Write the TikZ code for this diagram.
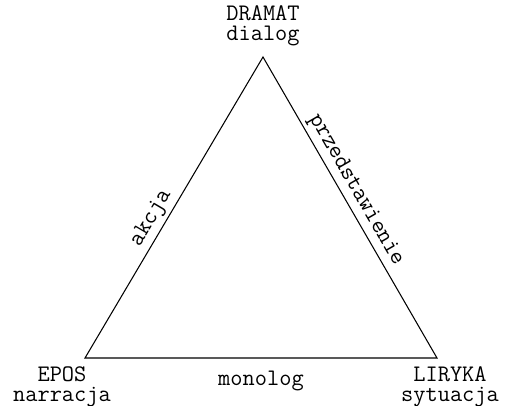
\documentclass[tikz,border=0pt]{standalone}
\usepackage{fontspec}
\usetikzlibrary{positioning}
\tikzset{
    vlabel/.style={font=\ttfamily\fontsize{13.5}{11.5}\selectfont, align=center, inner sep=1pt},
    elabel/.style={font=\ttfamily\fontsize{13.5}{11.5}\selectfont, sloped, above, inner sep=2pt},
}
\begin{document}
\begin{tikzpicture}[line width=0.6pt]
    \useasboundingbox (0,0) rectangle (10.24,8.10);
    \coordinate (dramat) at (5.26,6.96);
    \coordinate (epos) at (1.70,0.94);
    \coordinate (liryka) at (8.74,0.94);
    \node[vlabel, above=0.18cm of dramat] (dramatlbl) {DRAMAT\\dialog};
    \node[vlabel, below=0.12cm of epos, xshift=-0.46cm] (eposlbl) {EPOS\\narracja};
    \node[vlabel, below=0.12cm of liryka, xshift=0.26cm] (lirykalbl) {LIRYKA\\sytuacja};
    \draw (epos) -- node[elabel, pos=0.44] (akcja) {akcja} (dramat)
        -- node[elabel, pos=0.465] (przedst) {przedstawienie} (liryka)
        -- node[vlabel, midway, below=0.22cm] (monolog) {monolog} cycle;
\end{tikzpicture}
\end{document}
